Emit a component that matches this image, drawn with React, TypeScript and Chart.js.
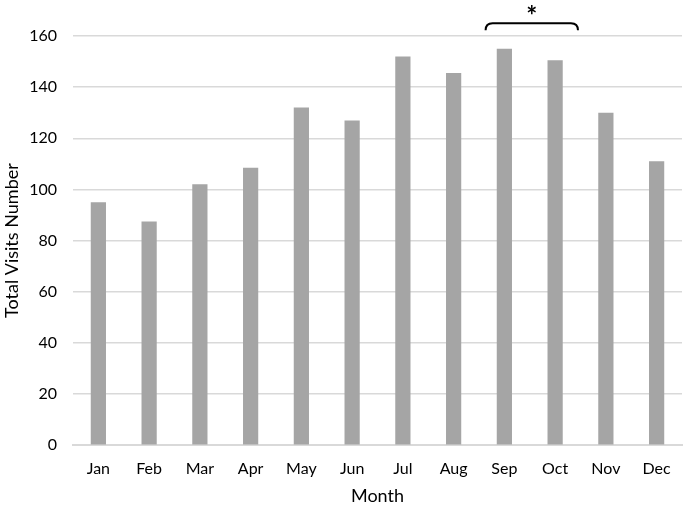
import React, { useEffect, useRef } from "react";
import { Chart, registerables } from "chart.js";

Chart.register(...registerables);

const months = ["Jan", "Feb", "Mar", "Apr", "May", "Jun", "Jul", "Aug", "Sep", "Oct", "Nov", "Dec"];
const visits = [95, 87.5, 102, 108.5, 132, 127, 152, 145.5, 155, 150.5, 130, 111];
const bracketFrom = 7.63;
const bracketTo = 9.45;
const bracketValue = 165;
const bracketLabel = "*";

const FONT = "Lato, 'Open Sans', sans-serif";

const bracketPlugin = {
  id: "bracket",
  afterDraw(chart: any) {
    const { ctx, scales } = chart;
    const x1 = scales.x.getPixelForValue(bracketFrom);
    const x2 = scales.x.getPixelForValue(bracketTo);
    const y = scales.y.getPixelForValue(bracketValue);
    const r = 7;
    ctx.save();
    ctx.strokeStyle = "#000";
    ctx.lineWidth = 2;
    ctx.beginPath();
    ctx.moveTo(x1, y + r);
    ctx.quadraticCurveTo(x1, y, x1 + r, y);
    ctx.lineTo(x2 - r, y);
    ctx.quadraticCurveTo(x2, y, x2, y + r);
    ctx.stroke();
    ctx.fillStyle = "#000";
    ctx.font = "bold 26px " + FONT;
    ctx.textAlign = "center";
    ctx.textBaseline = "middle";
    ctx.fillText(bracketLabel, (x1 + x2) / 2, y - 7);
    ctx.restore();
  },
};

export default function App() {
  const ref = useRef<HTMLCanvasElement>(null);
  useEffect(() => {
    document.body.style.margin = "0";
    const chart = new Chart(ref.current!, {
      type: "bar",
      data: {
        labels: months,
        datasets: [
          {
            data: visits,
            backgroundColor: "#a5a5a5",
            barPercentage: 0.3,
            categoryPercentage: 1,
          },
        ],
      },
      options: {
        animation: false,
        responsive: false,
        layout: { padding: { top: 36, right: 3, left: 1, bottom: -1 } },
        plugins: { legend: { display: false }, tooltip: { enabled: false } },
        scales: {
          x: {
            grid: { display: false, drawTicks: false },
            border: { color: "#d9d9d9", width: 2 },
            ticks: { color: "#000", font: { family: FONT, size: 16 }, padding: 14 },
            title: { display: true, text: "Month", color: "#000", font: { family: FONT, size: 18 }, padding: { top: -7, bottom: 0 } },
          },
          y: {
            min: 0,
            max: 160,
            afterFit: (scale: any) => {
              scale.width = 72;
            },
            ticks: { stepSize: 20, color: "#000", font: { family: FONT, size: 16 }, padding: 16 },
            grid: { color: "#d9d9d9", lineWidth: 1.5, drawTicks: false },
            border: { display: false },
            title: { display: true, text: "Total Visits Number", color: "#000", font: { family: FONT, size: 18 }, padding: { top: 0, bottom: 0 } },
          },
        },
      },
      plugins: [bracketPlugin],
    });
    return () => chart.destroy();
  }, []);
  return <canvas ref={ref} width={685} height={506} style={{ display: "block" }} />;
}
